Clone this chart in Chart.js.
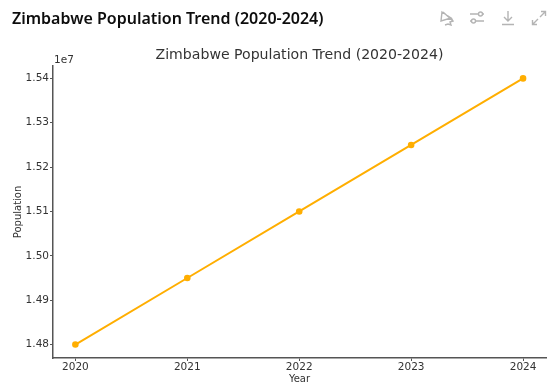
<!DOCTYPE html>
<html>
<head>
<meta charset="utf-8">
<title>Zimbabwe Population Trend (2020-2024)</title>
<script src="https://cdn.jsdelivr.net/npm/chart.js@4"></script>
<style>
    html, body { margin: 0; padding: 0; background: #fff; overflow: hidden; }
    #wrap { position: relative; width: 553px; height: 387px; }
    #graph1 { position: absolute; left: 0; top: 0; }
    #heading {
        position: absolute; left: 12px; top: 7px; margin: 0;
        font: 600 16px "Noto Sans", sans-serif; color: #0d0d0d; white-space: nowrap;
    }
    .icon { position: absolute; top: 10px; width: 16px; height: 16px; fill: none; stroke: #b4b4b4; stroke-width: 1.4; }
</style>
</head>
<body>
<div id="wrap">
    <canvas id="graph1" width="553" height="387"></canvas>
    <h1 id="heading">Zimbabwe Population Trend (2020-2024)</h1>
    <svg class="icon" style="left:438px" viewBox="0 0 16 16"><path d="M4 2l9 6-10 3zM13 8l2 3-3 1 1 3-3-1-3 1M5 2l10 9"/></svg>
    <svg class="icon" style="left:469px" viewBox="0 0 16 16"><path d="M1 4h9M13 4h2M1 11h2M6 11h9"/><circle cx="11.500" cy="4" r="2"/><circle cx="4.500" cy="11" r="2"/></svg>
    <svg class="icon" style="left:500px" viewBox="0 0 16 16"><path d="M8 1v9M4 7l4 4 4-4M2 14.500h12"/></svg>
    <svg class="icon" style="left:531px" viewBox="0 0 16 16"><path d="M9 7l5-5M10 1.500h4.500V6M7 9l-5 5M1.500 10v4.500H6"/></svg>
</div>
<script>
const years = [2020, 2021, 2022, 2023, 2024];
const population = [14800000, 14950000, 15100000, 15250000, 15400000];
const yTicks = [14800000, 14900000, 15000000, 15100000, 15200000, 15300000, 15400000];

const textColor = '#333333';
const axisColor = '#555555';
const lineColor = '#ffae00';

// the "1e7" offset label matplotlib puts above the y axis
const offsetLabel = {
    id: 'offsetLabel',
    afterDraw(chart) {
        const ctx = chart.ctx;
        ctx.save();
        ctx.font = '10.5px "DejaVu Sans"';
        ctx.fillStyle = textColor;
        ctx.textAlign = 'left';
        ctx.textBaseline = 'alphabetic';
        ctx.fillText('1e7', chart.chartArea.left + 1, chart.chartArea.top - 3);
        ctx.restore();
    }
};

new Chart(document.getElementById('graph1'), {
    type: 'line',
    data: {
        datasets: [{
            label: 'Population',
            data: years.map((y, i) => ({ x: y, y: population[i] })),
            borderColor: lineColor,
            backgroundColor: lineColor,
            borderWidth: 2,
            pointRadius: 2.3,
            tension: 0
        }]
    },
    options: {
        responsive: false,
        animation: false,
        layout: { padding: { left: 0, right: 7, top: 0, bottom: 0 } },
        plugins: {
            legend: { display: false },
            tooltip: { enabled: false },
            title: {
                display: true,
                text: 'Zimbabwe Population Trend (2020-2024)',
                fullSize: false,
                color: textColor,
                font: { family: 'DejaVu Sans', size: 14.1, weight: 'normal' },
                padding: { top: 47, bottom: 2 }
            }
        },
        scales: {
            x: {
                type: 'linear',
                min: 2019.8,
                max: 2024.205,
                afterBuildTicks: axis => { axis.ticks = years.map(v => ({ value: v })); },
                afterFit: axis => { axis.height = 29; },
                grid: { display: true, drawOnChartArea: false, drawTicks: true, tickLength: 3, tickColor: axisColor },
                border: { color: axisColor, width: 1.5 },
                ticks: {
                    color: textColor,
                    font: { family: 'DejaVu Sans', size: 10.5 },
                    padding: 0,
                    maxRotation: 0,
                    callback: v => String(v)
                },
                title: {
                    display: true,
                    text: 'Year',
                    color: textColor,
                    font: { family: 'DejaVu Sans', size: 10 },
                    padding: { top: 0, bottom: 2 }
                }
            },
            y: {
                min: 14769700,
                max: 15428100,
                afterBuildTicks: axis => { axis.ticks = yTicks.map(v => ({ value: v })); },
                afterFit: axis => { axis.width = 53; },
                grid: { display: true, drawOnChartArea: false, drawTicks: true, tickLength: 3, tickColor: axisColor },
                border: { color: axisColor, width: 1.5 },
                ticks: {
                    color: textColor,
                    font: { family: 'DejaVu Sans', size: 10.5 },
                    padding: 1,
                    callback: v => (v / 1e7).toFixed(2)
                },
                title: {
                    display: true,
                    text: 'Population',
                    color: textColor,
                    font: { family: 'DejaVu Sans', size: 10 },
                    padding: { top: 12, bottom: 0 }
                }
            }
        }
    },
    plugins: [offsetLabel]
});
</script>
</body>
</html>
